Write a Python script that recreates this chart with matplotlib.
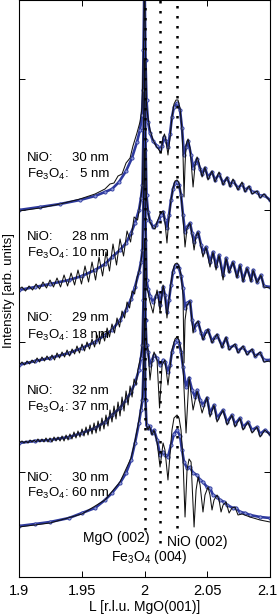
import matplotlib.pyplot as plt
from matplotlib.transforms import ScaledTranslation

plt.rcParams['font.family'] = ['Liberation Sans', 'DejaVu Sans']
plt.rcParams['mathtext.default'] = 'regular'

# layer thicknesses (nm), top curve first
nio_nm = ['30', '28', '29', '32', '30']
fe_nm = ['5', '10', '18', '37', '60']

# Bragg peak positions (r.l.u.)
peak_L = [2.0, 2.0125, 2.026]
peak_names = ['MgO (002)', 'Fe$_3$O$_4$ (004)', 'NiO (002)']

# ---------------------------------------------------------------
#   curve 1 : NiO 30 nm / Fe3O4 5 nm
# ---------------------------------------------------------------
L_dat1 = [1.9000, 1.9167, 1.9327, 1.9486, 1.9606, 1.9685, 1.9741, 1.9797, 1.9853, 1.9900,
          1.9940, 1.9964, 1.9980, 1.9988, 1.9992, 2.0000, 2.0008, 2.0016, 2.0028, 2.0044,
          2.0068, 2.0100, 2.0124, 2.0139, 2.0155, 2.0171, 2.0187, 2.0203, 2.0219, 2.0235,
          2.0259, 2.0283, 2.0299, 2.0315, 2.0331, 2.0347, 2.0371, 2.0387, 2.0403, 2.0419,
          2.0443, 2.0459, 2.0482, 2.0506, 2.0538, 2.0562, 2.0594, 2.0626, 2.0658, 2.0682,
          2.0705, 2.0745, 2.0777, 2.0801, 2.0833, 2.0857, 2.0897, 2.0921, 2.0952, 2.1000]
I_dat1 = [36.7, 37.0, 37.3, 37.7, 38.1, 38.5, 38.8, 39.5, 40.6, 41.9,
          43.5, 44.7, 46.2, 48.7, 52.7, 60.7, 51.7, 47.7, 45.5, 44.4,
          43.6, 43.1, 42.8, 43.1, 44.0, 43.6, 43.0, 44.3, 46.0, 47.0,
          47.4, 46.7, 44.9, 42.2, 43.0, 43.6, 42.2, 40.9, 41.4, 41.8,
          40.8, 40.3, 40.9, 40.0, 40.5, 39.7, 40.3, 39.4, 39.9, 39.2,
          39.6, 38.9, 39.3, 38.7, 39.0, 38.5, 38.5, 38.1, 38.2, 37.7]
L_fit1 = [1.9000, 1.9167, 1.9327, 1.9486, 1.9606, 1.9685, 1.9725, 1.9757, 1.9789, 1.9821,
          1.9853, 1.9885, 1.9908, 1.9940, 1.9964, 1.9980, 1.9992, 2.0000, 2.0008, 2.0016,
          2.0028, 2.0044, 2.0068, 2.0092, 2.0116, 2.0132, 2.0147, 2.0159, 2.0171, 2.0187,
          2.0203, 2.0219, 2.0235, 2.0251, 2.0267, 2.0283, 2.0299, 2.0307, 2.0315, 2.0323,
          2.0331, 2.0347, 2.0363, 2.0387, 2.0403, 2.0419, 2.0435, 2.0459, 2.0482, 2.0506,
          2.0538, 2.0562, 2.0594, 2.0626, 2.0658, 2.0682, 2.0705, 2.0745, 2.0777, 2.0801,
          2.0833, 2.0857, 2.0897, 2.0921, 2.0952, 2.1000]
I_fit1 = [36.6, 36.9, 37.3, 37.8, 38.3, 38.8, 39.3, 39.4, 40.1, 40.3,
          41.4, 41.9, 43.1, 44.4, 45.5, 46.9, 52.7, 60.7, 52.7, 47.2,
          45.9, 44.7, 43.7, 43.1, 42.7, 42.4, 43.9, 44.3, 43.7, 42.2,
          43.9, 46.0, 47.3, 47.7, 47.7, 46.9, 44.7, 42.2, 38.0, 41.2,
          43.2, 43.8, 42.9, 39.0, 41.2, 42.0, 41.4, 40.0, 41.0, 39.7,
          40.6, 39.5, 40.5, 39.2, 40.0, 39.0, 39.8, 38.7, 39.5, 38.5,
          39.1, 38.3, 38.6, 37.9, 38.3, 37.6]

# ---------------------------------------------------------------
#   curve 2 : NiO 28 nm / Fe3O4 10 nm
# ---------------------------------------------------------------
L_dat2 = [1.9000, 1.9128, 1.9247, 1.9399, 1.9502, 1.9606, 1.9685, 1.9741, 1.9805, 1.9853,
          1.9893, 1.9924, 1.9956, 1.9972, 1.9984, 1.9992, 2.0000, 2.0008, 2.0016, 2.0028,
          2.0044, 2.0068, 2.0092, 2.0116, 2.0132, 2.0148, 2.0163, 2.0179, 2.0195, 2.0211,
          2.0227, 2.0243, 2.0259, 2.0275, 2.0291, 2.0307, 2.0323, 2.0339, 2.0363, 2.0379,
          2.0395, 2.0411, 2.0427, 2.0451, 2.0466, 2.0490, 2.0522, 2.0546, 2.0570, 2.0594,
          2.0626, 2.0650, 2.0674, 2.0705, 2.0737, 2.0761, 2.0785, 2.0817, 2.0849, 2.0865,
          2.0897, 2.0928, 2.0952, 2.1000]
I_dat2 = [28.7, 29.0, 29.3, 29.7, 30.1, 30.7, 31.3, 32.0, 32.7, 33.4,
          34.4, 35.4, 36.7, 37.9, 39.2, 44.7, 51.7, 43.7, 38.2, 36.5,
          35.6, 35.0, 35.2, 35.7, 36.2, 36.5, 35.7, 34.9, 36.2, 37.7,
          38.8, 39.4, 39.5, 39.2, 38.2, 36.2, 34.5, 35.0, 35.4, 34.4,
          33.5, 34.1, 34.5, 33.2, 32.5, 33.0, 31.5, 32.5, 31.1, 32.2,
          30.2, 31.9, 30.6, 31.5, 30.1, 31.2, 29.7, 30.9, 29.7, 30.7,
          29.5, 30.2, 29.1, 29.0]
L_fit2 = [1.9000,
          1.9024, 1.9052, 1.9080, 1.9108, 1.9136, 1.9164, 1.9191, 1.9219, 1.9247, 1.9275,
          1.9303, 1.9331, 1.9359, 1.9387, 1.9415, 1.9443, 1.9470, 1.9498, 1.9526, 1.9554,
          1.9582, 1.9610, 1.9638, 1.9666, 1.9693, 1.9721, 1.9749, 1.9777, 1.9805, 1.9833,
          1.9861, 1.9889, 1.9917, 1.9945, 1.9964,
          1.9972, 1.9984, 1.9992, 2.0000, 2.0008, 2.0016, 2.0028, 2.0044, 2.0068, 2.0084,
          2.0100, 2.0124, 2.0148, 2.0163, 2.0179, 2.0195, 2.0211, 2.0227, 2.0243, 2.0259,
          2.0275, 2.0291, 2.0307, 2.0323, 2.0339, 2.0363, 2.0379, 2.0395, 2.0411, 2.0427,
          2.0451, 2.0466, 2.0490, 2.0522, 2.0546, 2.0570, 2.0594, 2.0626, 2.0650, 2.0674,
          2.0705, 2.0737, 2.0761, 2.0785, 2.0817, 2.0849, 2.0865, 2.0897, 2.0928, 2.0952,
          2.1000]
I_fit2 = [28.8,
          29.0, 28.6, 29.1, 28.7, 29.3, 28.8, 29.5, 28.9, 29.7, 29.0,
          29.9, 29.0, 30.2, 29.1, 30.4, 29.2, 30.7, 29.3, 31.1, 29.5,
          31.5, 29.7, 32.0, 30.1, 32.5, 30.6, 33.3, 31.2, 33.8, 32.1,
          34.6, 33.5, 36.0, 35.7, 37.2,
          38.0, 39.4, 44.7, 51.7, 43.7, 37.9, 36.5, 35.5, 34.9, 34.8,
          35.5, 36.3, 36.6, 35.5, 33.4, 35.9, 37.7, 38.9, 39.6, 39.7,
          39.4, 38.2, 35.9, 33.0, 34.9, 35.4, 34.2, 32.7, 34.1, 34.5,
          33.0, 32.0, 33.0, 31.0, 32.5, 30.7, 32.2, 29.7, 31.9, 30.4,
          31.5, 29.9, 31.2, 29.5, 30.9, 29.5, 30.7, 29.4, 30.2, 29.0,
          28.9]

# ---------------------------------------------------------------
#   curve 3 : NiO 29 nm / Fe3O4 18 nm
# ---------------------------------------------------------------
L_dat3 = [1.9000, 1.9128, 1.9247, 1.9399, 1.9502, 1.9606, 1.9685, 1.9741, 1.9805, 1.9853,
          1.9893, 1.9924, 1.9956, 1.9972, 1.9984, 1.9992, 2.0000, 2.0008, 2.0016, 2.0028,
          2.0044, 2.0068, 2.0092, 2.0108, 2.0124, 2.0148, 2.0163, 2.0179, 2.0195, 2.0211,
          2.0227, 2.0243, 2.0259, 2.0275, 2.0291, 2.0307, 2.0323, 2.0339, 2.0363, 2.0379,
          2.0395, 2.0411, 2.0427, 2.0451, 2.0466, 2.0490, 2.0506, 2.0538, 2.0562, 2.0578,
          2.0618, 2.0650, 2.0674, 2.0721, 2.0745, 2.0785, 2.0817, 2.0857, 2.0881, 2.0921,
          2.0952, 2.1000]
I_dat3 = [21.2, 21.6, 21.9, 22.4, 22.9, 23.5, 24.2, 24.7, 25.7, 26.7,
          27.8, 29.0, 30.5, 31.5, 32.7, 37.7, 42.7, 35.7, 29.7, 28.8,
          28.1, 27.5, 28.1, 28.4, 27.2, 29.0, 28.2, 26.5, 27.7, 29.2,
          30.5, 31.1, 31.2, 30.9, 30.1, 28.9, 26.9, 27.4, 27.6, 25.7,
          24.7, 25.3, 25.5, 24.4, 23.9, 24.6, 24.7, 23.6, 24.0, 24.2,
          23.1, 23.9, 22.9, 23.2, 22.6, 23.0, 22.4, 22.7, 22.1, 22.4,
          21.7, 21.7]
L_fit3 = [1.9000,
          1.9024, 1.9044, 1.9064, 1.9084, 1.9104, 1.9124, 1.9144, 1.9164, 1.9183, 1.9203,
          1.9223, 1.9243, 1.9263, 1.9283, 1.9303, 1.9323, 1.9343, 1.9363, 1.9383, 1.9403,
          1.9423, 1.9443, 1.9462, 1.9482, 1.9502, 1.9522, 1.9542, 1.9562, 1.9582, 1.9602,
          1.9622, 1.9642, 1.9662, 1.9682, 1.9702, 1.9721, 1.9741, 1.9761, 1.9781, 1.9801,
          1.9821, 1.9841, 1.9861, 1.9881, 1.9901, 1.9921, 1.9941,
          1.9956, 1.9972, 1.9984, 1.9992, 2.0000, 2.0008, 2.0016, 2.0028, 2.0044, 2.0068,
          2.0084, 2.0100, 2.0112, 2.0124, 2.0148, 2.0163, 2.0179, 2.0195, 2.0211, 2.0227,
          2.0243, 2.0259, 2.0275, 2.0291, 2.0307, 2.0315, 2.0323, 2.0339, 2.0363, 2.0387,
          2.0403, 2.0427, 2.0466, 2.0506, 2.0538, 2.0578, 2.0618, 2.0650, 2.0674, 2.0721,
          2.0745, 2.0785, 2.0817, 2.0857, 2.0881, 2.0921, 2.0952, 2.1000]
I_fit3 = [21.2,
          21.5, 21.2, 21.6, 21.3, 21.7, 21.4, 21.9, 21.5, 22.0, 21.6,
          22.1, 21.7, 22.2, 21.7, 22.4, 21.9, 22.5, 22.0, 22.7, 22.1,
          22.8, 22.3, 23.1, 22.4, 23.3, 22.6, 23.5, 22.8, 23.8, 23.0,
          24.2, 23.3, 24.5, 23.6, 24.9, 24.0, 25.3, 24.4, 25.9, 25.0,
          26.6, 25.9, 27.5, 26.9, 28.6, 28.3, 30.0,
          30.5, 31.5, 32.9, 37.7, 42.7, 35.7, 29.2, 28.5, 27.5, 26.4,
          27.7, 28.7, 27.7, 26.5, 29.2, 28.2, 25.9, 27.7, 29.4, 30.7,
          31.3, 31.4, 31.1, 30.2, 28.2, 21.4, 25.7, 27.2, 27.6, 24.4,
          25.2, 25.6, 23.7, 24.8, 23.4, 24.3, 22.9, 24.0, 22.7, 23.3,
          22.4, 23.1, 22.2, 22.8, 22.0, 22.5, 21.5, 21.6]

# ---------------------------------------------------------------
#   curve 4 : NiO 32 nm / Fe3O4 37 nm
# ---------------------------------------------------------------
L_dat4 = [1.9000, 1.9128, 1.9247, 1.9399, 1.9502, 1.9606, 1.9685, 1.9741, 1.9805, 1.9853,
          1.9893, 1.9924, 1.9956, 1.9972, 1.9984, 1.9992, 2.0000, 2.0008, 2.0016, 2.0028,
          2.0044, 2.0060, 2.0076, 2.0100, 2.0124, 2.0148, 2.0163, 2.0187, 2.0203, 2.0219,
          2.0243, 2.0259, 2.0275, 2.0291, 2.0307, 2.0331, 2.0355, 2.0379, 2.0403, 2.0419,
          2.0443, 2.0466, 2.0498, 2.0522, 2.0554, 2.0578, 2.0626, 2.0658, 2.0697, 2.0721,
          2.0761, 2.0785, 2.0825, 2.0857, 2.0897, 2.0921, 2.0960, 2.1000]
I_dat4 = [13.4, 13.6, 13.7, 14.0, 14.4, 14.9, 15.5, 16.2, 16.9, 17.7,
          18.5, 19.4, 20.7, 21.9, 23.2, 27.7, 33.7, 25.7, 23.2, 22.5,
          21.2, 21.7, 22.2, 21.9, 21.2, 21.7, 21.5, 20.5, 21.2, 22.5,
          23.5, 23.7, 23.4, 22.5, 21.0, 19.0, 19.9, 18.7, 18.0, 18.7,
          17.7, 17.2, 17.9, 16.4, 17.2, 15.9, 16.7, 15.5, 16.2, 15.3,
          15.9, 15.0, 15.5, 14.7, 15.0, 14.3, 14.7, 14.3]
L_fit4 = [1.9000,
          1.9024, 1.9040, 1.9056, 1.9072, 1.9088, 1.9104, 1.9120, 1.9135, 1.9151, 1.9167,
          1.9183, 1.9199, 1.9215, 1.9231, 1.9247, 1.9263, 1.9279, 1.9295, 1.9311, 1.9327,
          1.9343, 1.9359, 1.9375, 1.9391, 1.9406, 1.9422, 1.9438, 1.9454, 1.9470, 1.9486,
          1.9502, 1.9518, 1.9534, 1.9550, 1.9566, 1.9582, 1.9598, 1.9614, 1.9630, 1.9645,
          1.9661, 1.9677, 1.9693, 1.9709, 1.9725, 1.9741, 1.9757, 1.9773, 1.9789, 1.9805,
          1.9821, 1.9837, 1.9853, 1.9869, 1.9885, 1.9901, 1.9917, 1.9933, 1.9948,
          1.9972, 1.9984, 1.9992, 2.0000, 2.0008, 2.0016, 2.0028, 2.0044, 2.0060, 2.0076,
          2.0100, 2.0120, 2.0140, 2.0163, 2.0187, 2.0203, 2.0219, 2.0243, 2.0259, 2.0275,
          2.0291, 2.0307, 2.0331, 2.0355, 2.0387, 2.0419, 2.0459, 2.0498, 2.0522, 2.0554,
          2.0578, 2.0626, 2.0658, 2.0697, 2.0721, 2.0761, 2.0785, 2.0825, 2.0857, 2.0897,
          2.0921, 2.0960, 2.1000]
I_fit4 = [13.4,
          13.6, 13.4, 13.6, 13.4, 13.7, 13.5, 13.7, 13.5, 13.8, 13.5,
          13.8, 13.5, 13.9, 13.5, 13.9, 13.5, 14.0, 13.6, 14.0, 13.6,
          14.1, 13.6, 14.2, 13.7, 14.3, 13.8, 14.5, 13.9, 14.6, 14.0,
          14.8, 14.1, 15.0, 14.2, 15.2, 14.3, 15.4, 14.4, 15.6, 14.6,
          15.9, 14.8, 16.2, 15.1, 16.7, 15.5, 17.1, 15.8, 17.5, 16.1,
          18.0, 16.6, 18.6, 17.2, 19.1, 18.0, 19.8, 19.2, 20.8,
          22.1, 23.5, 27.7, 33.7, 25.7, 23.4, 22.7, 19.7, 21.5, 22.5,
          21.7, 16.9, 21.2, 21.7, 19.2, 20.9, 22.7, 23.8, 24.0, 23.7,
          22.7, 21.0, 14.4, 20.0, 16.7, 18.6, 16.4, 18.0, 16.0, 17.2,
          15.5, 16.7, 15.2, 16.2, 15.0, 15.9, 14.7, 15.5, 14.4, 15.0,
          14.0, 14.7, 14.2]

# ---------------------------------------------------------------
#   curve 5 : NiO 30 nm / Fe3O4 60 nm
# ---------------------------------------------------------------
L_dat5 = [1.9000, 1.9128, 1.9247, 1.9399, 1.9502, 1.9606, 1.9685, 1.9741, 1.9805, 1.9853,
          1.9893, 1.9924, 1.9956, 1.9972, 1.9984, 1.9992, 2.0000, 2.0008, 2.0016, 2.0028,
          2.0040, 2.0060, 2.0076, 2.0100, 2.0124, 2.0148, 2.0163, 2.0187, 2.0211, 2.0235,
          2.0259, 2.0283, 2.0299, 2.0315, 2.0339, 2.0363, 2.0387, 2.0419, 2.0443, 2.0466,
          2.0498, 2.0522, 2.0546, 2.0578, 2.0602, 2.0634, 2.0658, 2.0705, 2.0729, 2.0761,
          2.0801, 2.0841, 2.0921, 2.1000]
I_dat5 = [5.1, 5.3, 5.5, 5.9, 6.4, 6.9, 7.7, 8.4, 9.4, 10.4,
          11.7, 13.4, 15.4, 16.7, 17.7, 20.7, 25.7, 17.7, 15.2, 14.9,
          15.1, 14.4, 14.7, 13.7, 12.2, 12.5, 12.2, 12.0, 13.2, 14.3,
          14.7, 14.1, 12.7, 11.5, 10.9, 11.0, 10.4, 10.2, 9.7, 9.5,
          9.0, 8.9, 8.2, 8.0, 7.7, 7.5, 7.2, 6.9, 6.9, 6.5,
          6.4, 6.2, 6.0, 5.9]
L_fit5 = [1.9000, 1.9247, 1.9502, 1.9685, 1.9805, 1.9893, 1.9924, 1.9956, 1.9972, 1.9984,
          1.9992, 2.0000, 2.0008, 2.0016, 2.0028, 2.0040, 2.0060, 2.0076, 2.0100, 2.0124,
          2.0148, 2.0163, 2.0187, 2.0203, 2.0219, 2.0235, 2.0259, 2.0275, 2.0291, 2.0307,
          2.0323, 2.0339, 2.0355, 2.0371, 2.0395, 2.0411, 2.0427, 2.0443, 2.0466, 2.0482,
          2.0506, 2.0522, 2.0538, 2.0554, 2.0578, 2.0594, 2.0610, 2.0626, 2.0650, 2.0674,
          2.0697, 2.0721, 2.0745, 2.0777, 2.0841, 2.0921, 2.1000]
I_fit5 = [5.0, 5.4, 6.3, 7.7, 9.5, 11.9, 13.6, 15.7, 17.0, 18.0,
          20.7, 25.7, 17.7, 15.2, 14.7, 15.1, 14.2, 14.7, 13.5, 11.0,
          13.4, 12.7, 9.7, 12.2, 14.7, 15.9, 16.2, 15.9, 14.7, 11.7,
          6.0, 10.7, 11.8, 11.5, 5.0, 8.7, 10.0, 9.2, 6.5, 8.2,
          9.0, 8.2, 6.7, 7.7, 8.2, 7.7, 6.5, 7.2, 7.5, 6.4,
          6.9, 7.0, 6.2, 6.3, 6.0, 5.7, 5.5]

L_dat = [L_dat1, L_dat2, L_dat3, L_dat4, L_dat5]
I_dat = [I_dat1, I_dat2, I_dat3, I_dat4, I_dat5]
L_fit = [L_fit1, L_fit2, L_fit3, L_fit4, L_fit5]
I_fit = [I_fit1, I_fit2, I_fit3, I_fit4, I_fit5]

# ---------------------------------------------------------------
#   F I G U R E
# ---------------------------------------------------------------
fig = plt.figure(figsize=(2.78, 6.15), dpi=100)
ax = fig.add_axes([19 / 278, 38 / 615, 251 / 278, 577 / 615])

blue = '#2e3a9e'

for n in range(5):
    ax.plot(L_dat[n], I_dat[n], '-', color=blue, lw=1.9, zorder=2)
    ax.plot(L_dat[n], I_dat[n], 'o', ms=2.3, mfc='#8e99d8', mec=blue, mew=0.6, zorder=2.5)
    ax.plot(L_fit[n], I_fit[n], '-', color='#111111', lw=0.75, zorder=3)

# dotted peak markers
line_bottom = [0.081, 0.059, 0.085]
for pos, yb in zip(peak_L, line_bottom):
    ax.axvline(pos, ymin=yb, ymax=1, color='black', lw=1.8,
               linestyle=(0, (1, 3)), dash_capstyle='butt', zorder=4)

# thickness labels
fs = 9.5
label_y = [(41.9, 40.3), (34.0, 32.4), (25.9, 24.2), (18.6, 17.0), (9.9, 8.4)]
for n in range(5):
    y1, y2 = label_y[n]
    ax.text(1.9060, y1, 'NiO:', fontsize=fs, ha='left', va='center')
    ax.text(1.9717, y1, nio_nm[n] + ' nm', fontsize=fs, ha='right', va='center')
    ax.text(1.9060, y2, 'Fe$_3$O$_4$:', fontsize=fs, ha='left', va='center')
    ax.text(1.9717, y2, fe_nm[n] + ' nm', fontsize=fs, ha='right', va='center')

# peak names
ax.text(2.0044, 3.9, peak_names[0], fontsize=10, ha='right', va='center')
ax.text(2.0036, 2.0, peak_names[1], fontsize=10, ha='center', va='center')
ax.text(2.0179, 3.5, peak_names[2], fontsize=10, ha='left', va='center')

ax.set_xlim(1.9, 2.1)
ax.set_ylim(0, 57.7)
ax.set_xticks([1.9, 1.95, 2.0, 2.05, 2.1])
ax.set_xticklabels(['1.9', '1.95', '2', '2.05', '2.1'])
ax.set_yticks([10.5, 23.5, 36.7, 49.8])
ax.set_yticklabels([])
ax.tick_params(direction='in', top=True, right=True, length=4, width=0.7,
               labelsize=10.5, pad=5)
for sp in ax.spines.values():
    sp.set_linewidth(0.8)

# keep the last tick label inside the canvas
last = ax.get_xticklabels()[-1]
last.set_transform(last.get_transform() + ScaledTranslation(-3 / 100, 0, fig.dpi_scale_trans))

ax.set_xlabel('L [r.l.u. MgO(001)]', fontsize=10)
ax.xaxis.set_label_coords(0.5, -0.040)
fig.text(9 / 278, 1 - 290 / 615, 'Intensity [arb. units]', fontsize=9.5,
         rotation=90, ha='center', va='center')

fig.savefig('out.png', dpi=100)
